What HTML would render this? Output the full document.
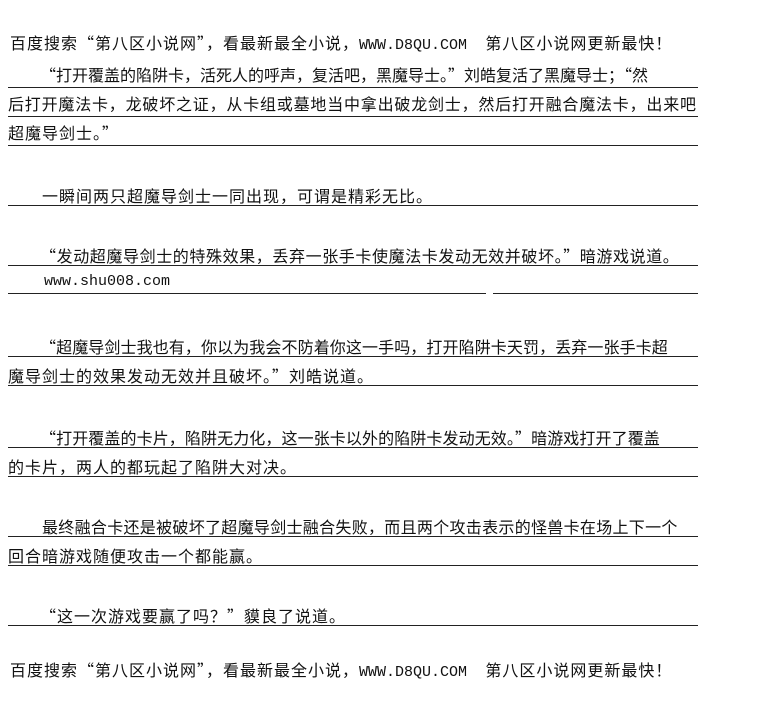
<!DOCTYPE html>
<html><head><meta charset="utf-8"><style>
body{margin:0;width:781px;height:711px;background:#fff;position:relative;overflow:hidden;font-family:"Noto Sans CJK SC","WenQuanYi Zen Hei",sans-serif;color:#111}
.t{position:absolute;font-size:16px;line-height:18px;white-space:nowrap;letter-spacing:1px}
.u{position:absolute;height:1px;background:#222}
.m{font-family:"Liberation Mono",monospace;font-size:15px;letter-spacing:0}
</style></head><body>
<div class="t" style="left:10px;top:33px;letter-spacing:1px">百度搜索“第八区小说网”，看最新最全小说，<span class="m">WWW.D8QU.COM</span>&nbsp;&nbsp;&nbsp;&nbsp;第八区小说网更新最快！</div>

<div class="t" style="left:40px;top:65px;letter-spacing:0px">“打开覆盖的陷阱卡，活死人的呼声，复活吧，黑魔导士。”刘皓复活了黑魔导士；“然</div>
<div class="u" style="left:8px;top:87px;width:690px"></div>
<div class="t" style="left:8px;top:94px;letter-spacing:0.8px">后打开魔法卡，龙破坏之证，从卡组或墓地当中拿出破龙剑士，然后打开融合魔法卡，出来吧</div>
<div class="u" style="left:8px;top:116px;width:690px"></div>
<div class="t" style="left:8px;top:123px">超魔导剑士。”</div>
<div class="u" style="left:8px;top:145px;width:690px"></div>

<div class="t" style="left:42px;top:186px">一瞬间两只超魔导剑士一同出现，可谓是精彩无比。</div>
<div class="u" style="left:8px;top:205px;width:690px"></div>

<div class="t" style="left:40px;top:246px;letter-spacing:0.6px">“发动超魔导剑士的特殊效果，丢弃一张手卡使魔法卡发动无效并破坏。”暗游戏说道。</div>
<div class="u" style="left:8px;top:265px;width:690px"></div>
<div class="t m" style="left:44px;top:273px">www.shu008.com</div>
<div class="u" style="left:8px;top:293px;width:478px"></div>
<div class="u" style="left:493px;top:293px;width:205px"></div>

<div class="t" style="left:40px;top:337px;letter-spacing:0.1px">“超魔导剑士我也有，你以为我会不防着你这一手吗，打开陷阱卡天罚，丢弃一张手卡超</div>
<div class="u" style="left:8px;top:356px;width:690px"></div>
<div class="t" style="left:8px;top:366px">魔导剑士的效果发动无效并且破坏。”刘皓说道。</div>
<div class="u" style="left:8px;top:385px;width:690px"></div>

<div class="t" style="left:40px;top:428px;letter-spacing:0.1px">“打开覆盖的卡片，陷阱无力化，这一张卡以外的陷阱卡发动无效。”暗游戏打开了覆盖</div>
<div class="u" style="left:8px;top:447px;width:690px"></div>
<div class="t" style="left:8px;top:457px">的卡片，两人的都玩起了陷阱大对决。</div>
<div class="u" style="left:8px;top:476px;width:690px"></div>

<div class="t" style="left:42px;top:517px;letter-spacing:0.3px">最终融合卡还是被破坏了超魔导剑士融合失败，而且两个攻击表示的怪兽卡在场上下一个</div>
<div class="u" style="left:8px;top:536px;width:690px"></div>
<div class="t" style="left:8px;top:546px">回合暗游戏随便攻击一个都能赢。</div>
<div class="u" style="left:8px;top:565px;width:690px"></div>

<div class="t" style="left:40px;top:606px">“这一次游戏要赢了吗？”貘良了说道。</div>
<div class="u" style="left:8px;top:625px;width:690px"></div>

<div class="t" style="left:10px;top:660px;letter-spacing:1px">百度搜索“第八区小说网”，看最新最全小说，<span class="m">WWW.D8QU.COM</span>&nbsp;&nbsp;&nbsp;&nbsp;第八区小说网更新最快！</div>
</body></html>
